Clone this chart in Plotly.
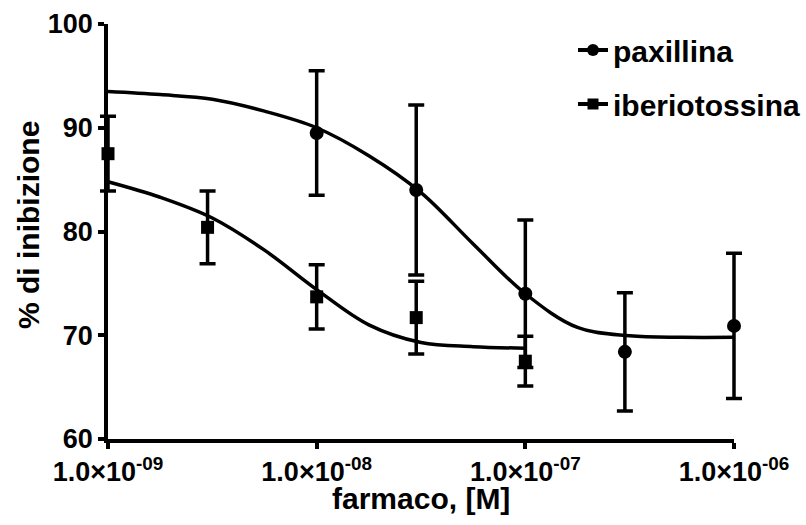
import plotly.graph_objects as go

# ---- data ----
pax_x = [1e-8, 3e-8, 1e-7, 3e-7, 1e-6]
pax_y = [89.5, 84.0, 74.0, 68.4, 70.9]
pax_err = [6.0, 8.2, 7.1, 5.7, 7.0]

ibe_x = [1e-9, 3e-9, 1e-8, 3e-8, 1e-7]
ibe_y = [87.5, 80.4, 73.7, 71.7, 67.5]
ibe_err = [3.6, 3.5, 3.1, 3.5, 2.4]

# fitted curves (log10 concentration, % inhibition)
pax_fit_logx = [-9, -8.75, -8.5, -8.25, -8, -7.75, -7.5, -7.25, -7, -6.75, -6.5, -6.25, -6]
pax_fit_y = [93.5, 93.2, 92.75, 91.6, 90.0, 87.3, 83.75, 78.8, 74.0, 70.75, 69.95, 69.8, 69.8]

ibe_fit_logx = [-9, -8.75, -8.5, -8.25, -8, -7.75, -7.5, -7.25, -7]
ibe_fit_y = [84.8, 83.3, 81.3, 78.2, 74.4, 71.0, 69.3, 68.9, 68.75]

x_tickvals = [1e-9, 1e-8, 1e-7, 1e-6]
x_ticktext = ["1.0×10<sup>-09</sup>", "1.0×10<sup>-08</sup>",
              "1.0×10<sup>-07</sup>", "1.0×10<sup>-06</sup>"]
y_tickvals = [60, 70, 80, 90, 100]

names = ["paxillina", "iberiotossina"]
x_title = "farmaco, [M]"
y_title = "% di inibizione"

FONT = "Liberation Sans, Arial, sans-serif"
BLACK = "#000000"

# layout geometry: visible axis spans x-range [-9, -6]; an invisible data axis
# (same scale) is slightly wider so edge error bars are not clipped
X_LO, X_HI = -9.0, -6.0
PAD_DEC = 0.09585
L_MARGIN, R_MARGIN = 88, 52
dom_lo = PAD_DEC / (X_HI - X_LO + 2 * PAD_DEC)
dom_hi = 1 - dom_lo

fig = go.Figure()

# empty trace so that the visible axis pair (x, y) forms a subplot
fig.add_trace(go.Scatter(x=[None], y=[None], xaxis="x", yaxis="y", mode="markers",
                         showlegend=False, hoverinfo="skip"))

# curves
fig.add_trace(go.Scatter(x=[10 ** v for v in pax_fit_logx], y=pax_fit_y, mode="lines",
                         xaxis="x2", yaxis="y",
                         line=dict(color=BLACK, width=3.5, shape="spline"),
                         showlegend=False, hoverinfo="skip"))
fig.add_trace(go.Scatter(x=[10 ** v for v in ibe_fit_logx], y=ibe_fit_y, mode="lines",
                         xaxis="x2", yaxis="y",
                         line=dict(color=BLACK, width=3.5, shape="spline"),
                         showlegend=False, hoverinfo="skip"))

# points with error bars
fig.add_trace(go.Scatter(x=pax_x, y=pax_y, mode="markers", xaxis="x2", yaxis="y",
                         marker=dict(symbol="circle", size=14, color=BLACK),
                         error_y=dict(type="data", array=pax_err, color=BLACK,
                                      thickness=3.5, width=8),
                         cliponaxis=False, showlegend=False))
fig.add_trace(go.Scatter(x=ibe_x, y=ibe_y, mode="markers", xaxis="x2", yaxis="y",
                         marker=dict(symbol="square", size=13, color=BLACK),
                         error_y=dict(type="data", array=ibe_err, color=BLACK,
                                      thickness=3.5, width=8),
                         cliponaxis=False, showlegend=False))

# legend entries
fig.add_trace(go.Scatter(x=[None], y=[None], mode="lines+markers", name=names[0],
                         xaxis="x2", yaxis="y", legendgroup="a",
                         line=dict(color=BLACK, width=4),
                         marker=dict(symbol="circle", size=12, color=BLACK)))
fig.add_trace(go.Scatter(x=[None], y=[None], mode="lines+markers", name=names[1],
                         xaxis="x2", yaxis="y", legendgroup="b",
                         line=dict(color=BLACK, width=4),
                         marker=dict(symbol="square", size=11, color=BLACK)))

fig.update_layout(
    width=806, height=525,
    margin=dict(l=L_MARGIN, r=R_MARGIN, t=24, b=86, autoexpand=False),
    paper_bgcolor="white", plot_bgcolor="rgba(0,0,0,0)",
    font=dict(family=FONT, color=BLACK, size=27, weight="bold"),
    showlegend=True,
    legend=dict(xref="container", yref="container", x=573 / 806, y=1 - 24 / 525,
                xanchor="left", yanchor="top",
                font=dict(family=FONT, size=30, color=BLACK, weight="bold"),
                itemwidth=30, tracegroupgap=12, bgcolor="rgba(0,0,0,0)"),
    xaxis=dict(type="log", range=[X_LO, X_HI], domain=[dom_lo, dom_hi], anchor="y",
               tickmode="array", tickvals=x_tickvals, ticktext=x_ticktext,
               showgrid=False, zeroline=False, showline=True, linecolor=BLACK, linewidth=3.5,
               ticks="outside", ticklen=6, tickwidth=3.5, tickcolor=BLACK,
               tickfont=dict(family=FONT, size=27, color=BLACK, weight="bold"),
               automargin=False),
    xaxis2=dict(type="log", range=[X_LO - PAD_DEC, X_HI + PAD_DEC], domain=[0, 1],
                anchor="y", visible=False, showgrid=False, zeroline=False,
                automargin=False),
    yaxis=dict(range=[60, 100], tickvals=y_tickvals, anchor="x",
               showgrid=False, zeroline=False, showline=True, linecolor=BLACK, linewidth=3.5,
               ticks="outside", ticklen=6, tickwidth=3.5, tickcolor=BLACK,
               tickfont=dict(family=FONT, size=27, color=BLACK, weight="bold"),
               automargin=False),
    annotations=[
        dict(text=x_title, xref="x domain", yref="y domain", x=0.5, y=-0.1445,
             xanchor="center", yanchor="middle", showarrow=False,
             font=dict(family=FONT, size=30, color=BLACK, weight="bold")),
        dict(text=y_title, xref="x domain", yref="y domain", x=-0.126, y=0.516,
             xanchor="center", yanchor="middle", showarrow=False, textangle=-90,
             font=dict(family=FONT, size=30, color=BLACK, weight="bold")),
    ],
)

fig.write_html("out.html")
